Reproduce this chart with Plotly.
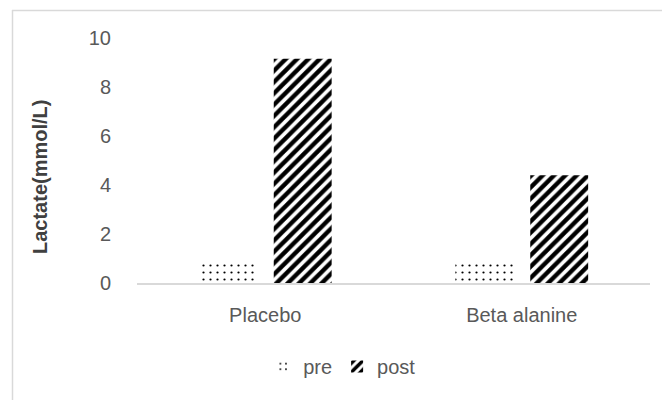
import plotly.graph_objects as go

categories = ["Placebo", "Beta alanine"]
pre_values = [0.92, 0.92]
post_values = [9.15, 4.4]
y_ticks = [0, 2, 4, 6, 8, 10]

# page body adds an 8px offset, so the figure is laid out in 662x392
W, H = 662, 392
L, R, T, B = 129, 20, 30, 117
pw, ph = W - L - R, H - T - B

def px_x(p):
    return (p - L) / pw

def px_y(p):
    return (H - B - p) / ph

fig = go.Figure()
fig.add_trace(go.Bar(
    name="pre", x=categories, y=pre_values,
    marker=dict(color="white", line=dict(width=0),
                pattern=dict(shape=".", fgcolor="black", bgcolor="white",
                             fgopacity=1, size=7, solidity=0.08)),
))
fig.add_trace(go.Bar(
    name="post", x=categories, y=post_values,
    marker=dict(color="white", line=dict(width=0),
                pattern=dict(shape="/", fgcolor="black", bgcolor="white",
                             fgopacity=1, size=8, solidity=0.55)),
))

font = "Liberation Sans"
fig.update_layout(
    width=W, height=H,
    margin=dict(l=L, r=R, t=T, b=B, autoexpand=False),
    paper_bgcolor="white", plot_bgcolor="white",
    barmode="group", bargap=0.416, bargroupgap=0.227,
    font=dict(family=font, color="#595959", size=20),
    showlegend=True,
    legend=dict(orientation="h", x=0.40, xanchor="center", y=-0.261,
                yanchor="top", font=dict(size=20, color="#595959"),
                itemwidth=30, traceorder="normal"),
    xaxis=dict(showline=True, linecolor="#d9d9d9", linewidth=1.5,
               ticks="", showgrid=False, ticklabelstandoff=13,
               tickfont=dict(size=20, color="#595959")),
    yaxis=dict(range=[0, 10], tickvals=y_ticks, showgrid=False,
               showline=False, zeroline=False, ticks="",
               ticklabelstandoff=25,
               tickfont=dict(size=20, color="#595959")),
    annotations=[
        dict(text="<b>Lactate(mmol/L)</b>", xref="paper", yref="paper",
             x=px_x(32), y=px_y(169), textangle=-90, showarrow=False,
             xanchor="center", yanchor="middle",
             font=dict(size=20, color="#404040", family=font)),
    ],
    shapes=[
        dict(type="line", xref="paper", yref="paper",
             x0=px_x(4), x1=px_x(670), y0=px_y(2.5), y1=px_y(2.5),
             line=dict(color="#d9d9d9", width=1.5)),
        dict(type="line", xref="paper", yref="paper",
             x0=px_x(4.5), x1=px_x(4.5), y0=px_y(2), y1=px_y(400),
             line=dict(color="#d9d9d9", width=1.5)),
    ],
)

fig.write_html("out.html")
